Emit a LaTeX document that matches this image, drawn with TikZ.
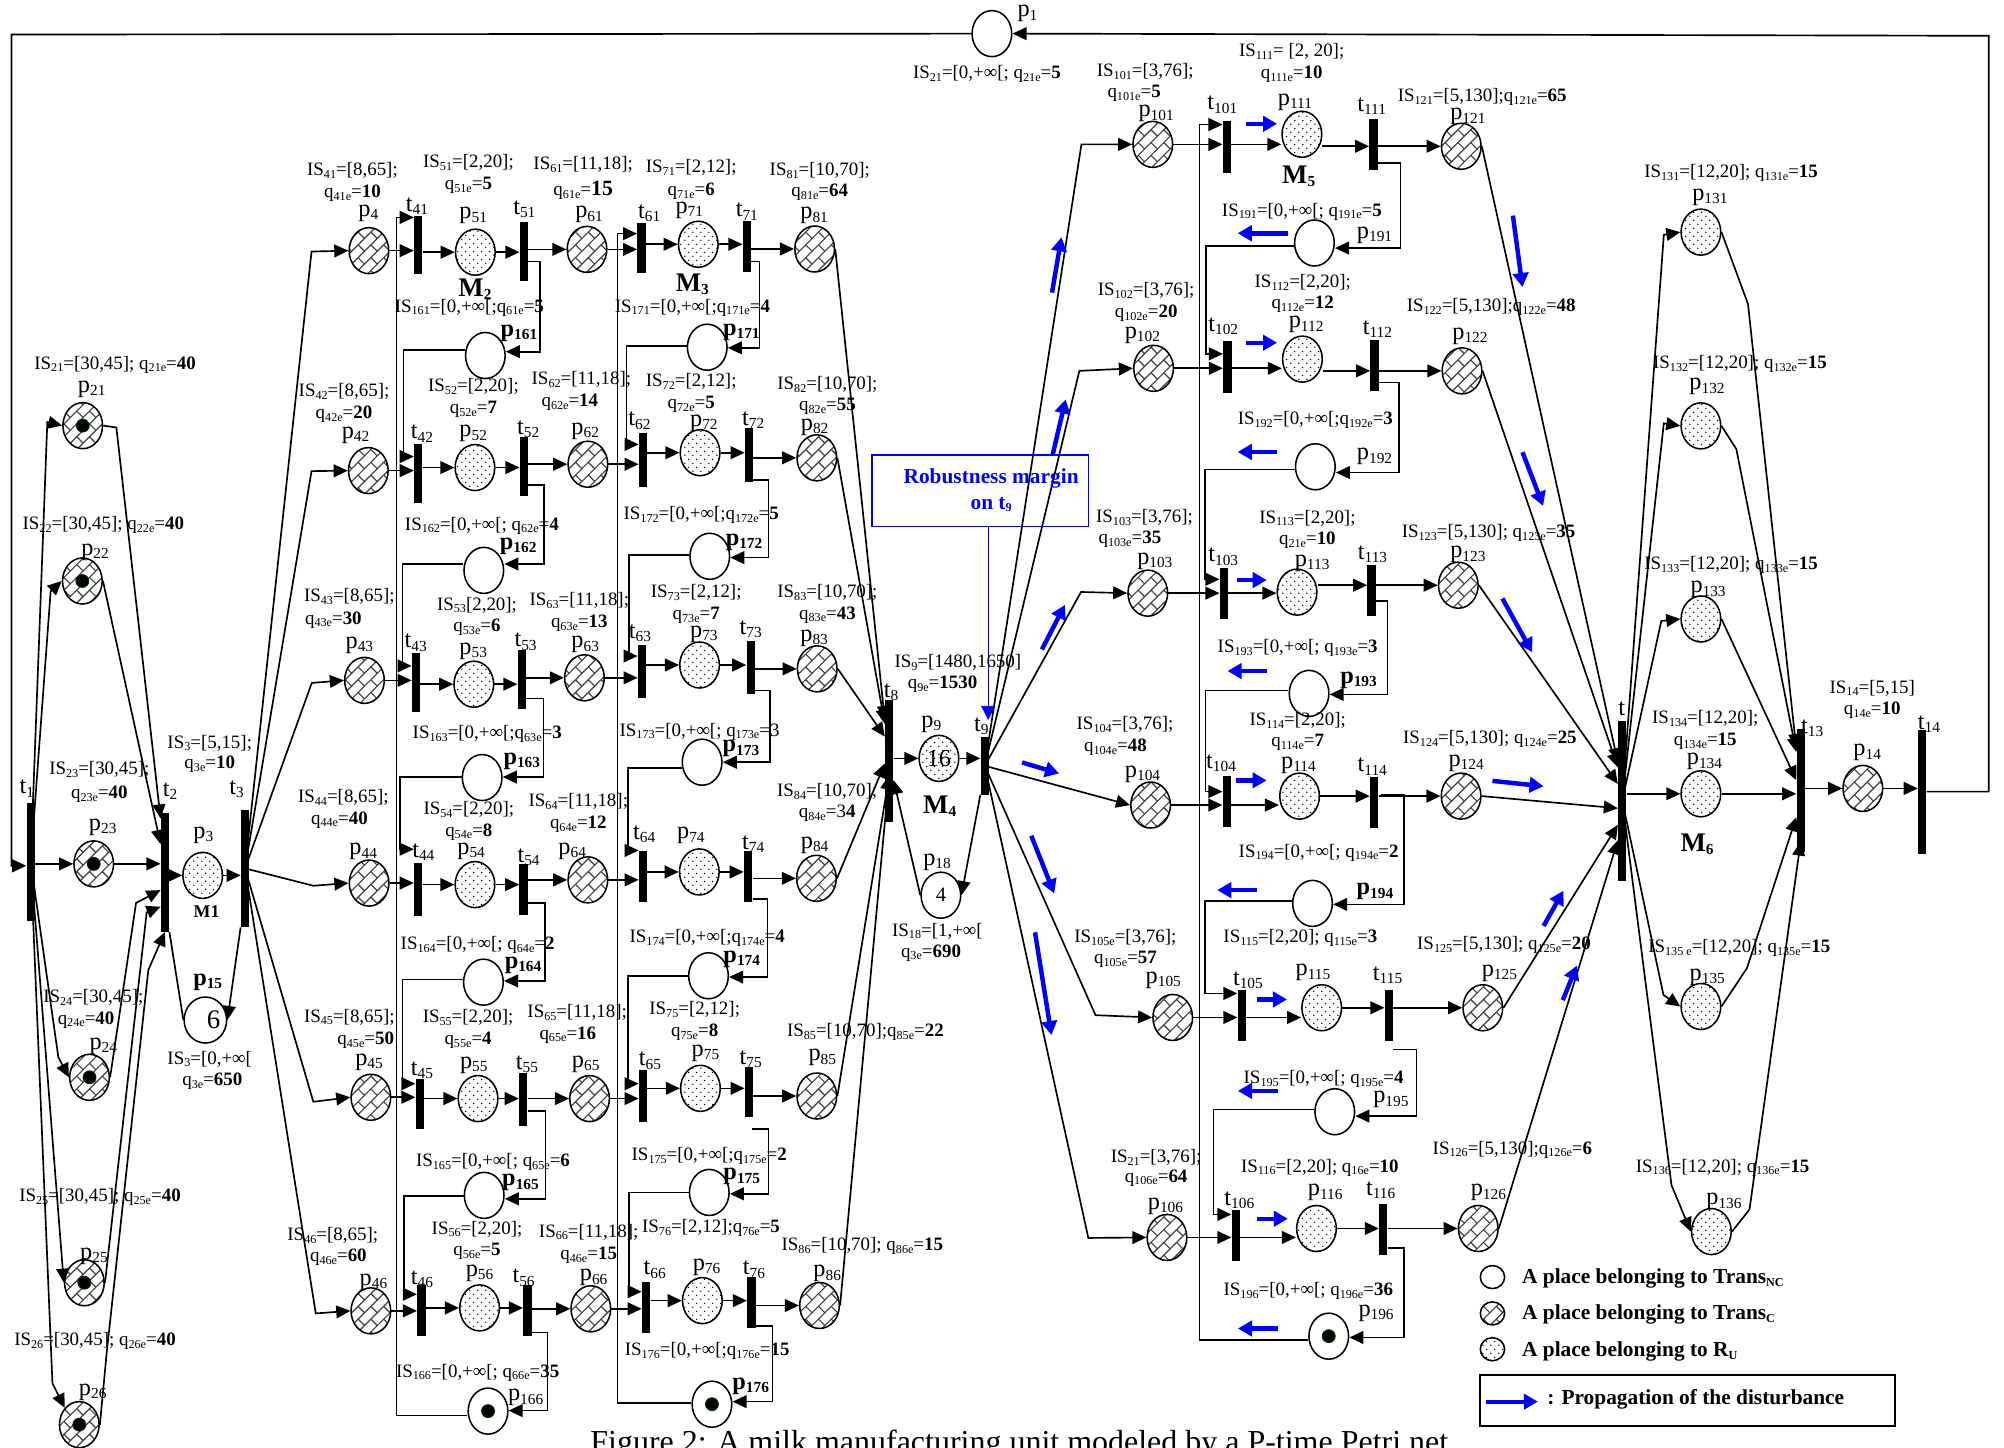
\documentclass[tikz,border=0pt]{standalone}
\usepackage{fontspec}
\setmainfont{Liberation Serif}
\usetikzlibrary{arrows.meta,shapes.geometric,patterns}
\pgfdeclarepatternformonly{dbrick}{\pgfqpoint{-1pt}{-1pt}}{\pgfqpoint{21pt}{21pt}}{\pgfqpoint{20pt}{20pt}}{%
 \pgfsetlinewidth{0.9pt}%
 \pgfpathmoveto{\pgfqpoint{0pt}{0pt}}\pgfpathlineto{\pgfqpoint{20pt}{20pt}}%
 \pgfpathmoveto{\pgfqpoint{0pt}{10pt}}\pgfpathlineto{\pgfqpoint{10pt}{20pt}}%
 \pgfpathmoveto{\pgfqpoint{10pt}{0pt}}\pgfpathlineto{\pgfqpoint{20pt}{10pt}}%
 \pgfpathmoveto{\pgfqpoint{5pt}{5pt}}\pgfpathlineto{\pgfqpoint{0pt}{10pt}}%
 \pgfpathmoveto{\pgfqpoint{15pt}{15pt}}\pgfpathlineto{\pgfqpoint{10pt}{20pt}}%
 \pgfpathmoveto{\pgfqpoint{5pt}{15pt}}\pgfpathlineto{\pgfqpoint{0pt}{20pt}}%
 \pgfpathmoveto{\pgfqpoint{15pt}{5pt}}\pgfpathlineto{\pgfqpoint{10pt}{10pt}}%
 \pgfusepath{stroke}}
\pgfdeclarepatternformonly{ddots}{\pgfqpoint{0pt}{0pt}}{\pgfqpoint{6pt}{6pt}}{\pgfqpoint{6pt}{6pt}}{%
 \pgfpathcircle{\pgfqpoint{1.5pt}{1.5pt}}{0.6pt}%
 \pgfpathcircle{\pgfqpoint{4.5pt}{4.5pt}}{0.6pt}%
 \pgfusepath{fill}}
\tikzset{
 x=1pt,y=-1pt,
 pl/.style={ellipse,draw,line width=1.2pt,minimum width=31pt,minimum height=36pt,inner sep=0pt,font=\fontsize{16}{18}\selectfont},
 brk/.style={pattern=dbrick,pattern color=black!75},
 dts/.style={pattern=ddots,pattern color=black},
 leg/.style={minimum width=19pt,minimum height=18pt},
 trn/.style={rectangle,fill=black,draw=none,minimum width=6.5pt,inner sep=0pt},
 tkn/.style={circle,fill=black,draw=black!60!green!40!black,line width=.8pt,minimum size=10pt,inner sep=0pt},
 cn/.style={draw,line width=1.3pt,line join=miter,-{Triangle[length=11pt,width=10pt]}},
 blu/.style={draw=blue,line width=3.5pt,-{Triangle[length=11pt,width=12pt]}},
 lbl/.style={inner sep=0pt,font=\fontsize{14.8}{17}\selectfont},
 plbl/.style={inner sep=0pt,font=\fontsize{19}{21}\selectfont},
 mlbl/.style={inner sep=0pt,font=\bfseries\fontsize{21}{23}\selectfont},
 lgd/.style={inner sep=0pt,anchor=west,font=\bfseries\fontsize{16.7}{18}\selectfont},
}
\newcounter{lbc}
\newcommand\sd[1]{\raisebox{-2.2pt}{\fontsize{9.5}{10}\selectfont #1}}
\newcommand\sD[1]{\raisebox{-2.6pt}{\fontsize{12}{13}\selectfont #1}}
\newcommand\lb[3]{\stepcounter{lbc}\node[lbl] (lb\arabic{lbc}) at (#1,#2) {#3};}
\newcommand\lp[4][p]{\stepcounter{lbc}\node[plbl] (lb\arabic{lbc}) at (#2,#3) {#1\sD{#4}};}
\newcommand\lbp[3]{\stepcounter{lbc}\node[plbl] (lb\arabic{lbc}) at (#1,#2) {\textbf{p\sD{#3}}};}
\newcommand\lM[3]{\stepcounter{lbc}\node[mlbl] (lb\arabic{lbc}) at (#1,#2) {M\sD{#3}};}
\newcommand\IS[2]{IS\sd{#1}#2}
\newcommand\Qq[2]{q\sd{#1}=\textbf{#2}}
\newcommand\PB[3]{\node[pl,brk] (#1) at (#2,#3) {};}
\newcommand\PD[3]{\node[pl,dts] (#1) at (#2,#3) {};}
\newcommand\PE[3]{\node[pl] (#1) at (#2,#3) {};}
\newcommand\TR[4]{\node[trn,minimum height=#4pt] (#1) at (#2,#3) {};}
\newcommand\TK[1]{\node[tkn] (tk#1) at (#1) {};}
\newcommand\loopR[5]{\draw[cn] (#1.east |- 0,#2) -- (#3,#2) -- (#3,#4) -- (#5.east |- 0,#4);}
\newcommand\loopL[5]{\draw[cn] (#1.west |- 0,#2) -- (#3,#2) -- (#3,#4) -- (#5.west |- 0,#4);}
\newcommand\bl[4]{\draw[blu] (#1,#2) -- (#3,#4);}
\begin{document}
\begin{tikzpicture}
\useasboundingbox (0,0) rectangle (1567,1131.5);
% --- left part
\PE{p1}{775.6}{26.3}
\TR{t1}{24}{674}{92}\TR{t2}{129}{682}{93}\TR{t3}{191.6}{679}{92}
\PB{p21}{64.7}{332.8}\PB{p22}{64.4}{454.3}\PB{p23}{73.3}{675.5}\PB{p24}{70}{842.4}\PB{p25}{66}{1003}\PB{p26}{62}{1114}
\PD{p3}{158.5}{684.5}
\node[pl] (p15) at (160.6,797.6) {\fontsize{21}{23}\selectfont\hspace*{13pt}\raisebox{-6pt}{6}};
% --- M2/M3 rows
\PB{p41}{288.5}{196}\TR{t41}{327}{191.6}{46}\PD{p51}{371.7}{197.2}\TR{t51}{409.7}{196.7}{46}\PB{p61}{459}{195}\TR{t61}{501.6}{194}{39}\PD{p71}{546}{191}\TR{t71}{584}{192.7}{40}\PB{p81}{637}{194.7}
\PB{p42}{288}{368}\TR{t42}{327}{370.4}{46}\PD{p52}{371.4}{365.6}\TR{t52}{409.7}{365}{46}\PB{p62}{459.7}{363}\TR{t62}{502.8}{359.5}{42}\PD{p72}{547.4}{354}\TR{t72}{585.7}{355.6}{42}\PB{p82}{638.7}{358}
\PB{p43}{285}{532}\TR{t43}{325.3}{533.4}{46}\PD{p53}{370.5}{535}\TR{t53}{408}{531}{46}\PB{p63}{457}{530}\TR{t63}{502}{525}{42}\PD{p73}{547}{520}\TR{t73}{587}{522}{42}\PB{p83}{639}{523}
\PB{p44}{288.6}{690.5}\TR{t44}{327}{695.5}{41}\PD{p54}{371.4}{691.7}\TR{t54}{409.4}{695.6}{40}\PB{p64}{459.7}{688}\TR{t64}{502.8}{685.6}{40}\PD{p74}{546.8}{681.8}\TR{t74}{585}{685.6}{40}\PB{p84}{638.4}{686.8}
\PB{p45}{290}{858}\TR{t45}{328.3}{863.5}{39}\PD{p55}{373.8}{859}\TR{t55}{409.1}{859.7}{41}\PB{p65}{461}{859}\TR{t65}{502.8}{857}{40}\PD{p75}{547.7}{851}\TR{t75}{585.7}{854}{39}\PB{p85}{638.7}{857}
\PB{p46}{290}{1025}\TR{t46}{329.5}{1025}{40}\PD{p56}{375}{1022.7}\TR{t56}{412.4}{1025}{40}\PB{p66}{462}{1023.4}\TR{t66}{505.2}{1022.7}{40}\PD{p76}{549.2}{1017}\TR{t76}{587.5}{1018.5}{40}\PB{p86}{640.8}{1020.8}
\PE{p161}{379.5}{278}\PE{p162}{378.3}{446}\PE{p163}{377}{608}\PE{p164}{378}{768}\PE{p165}{378.6}{934.7}\PE{p166}{381.6}{1103.4}
\PE{p171}{553}{271.5}\PE{p172}{555}{435}\PE{p173}{549}{596}\PE{p174}{554}{763}\PE{p175}{554.6}{932.4}\PE{p176}{556.7}{1098}
\TR{t8}{695.3}{595}{96}\TR{t9}{770}{598.8}{45}
\node[pl,dts] (p9) at (734.2,593) {\fontsize{19}{21}\selectfont 16};
\node[pl] (p18) at (735.7,700) {4};
% --- M5 rows
\PB{p101}{901.4}{112.9}\TR{t101}{959.4}{115}{41}\PD{p111}{1018}{105}\TR{t111}{1074}{113}{40}\PB{p121}{1142.6}{114.4}
\PB{p102}{902}{288}\TR{t102}{959.7}{287}{40}\PD{p112}{1018.4}{280.8}\TR{t112}{1074.8}{286}{40}\PB{p122}{1143.2}{290}
\PB{p103}{897.5}{463.8}\TR{t103}{957}{463.8}{40}\PD{p113}{1014.2}{463}\TR{t113}{1072.5}{462}{40}\PB{p123}{1140.3}{457.6}
\PB{p104}{899.7}{629.5}\TR{t104}{959.3}{626.4}{40}\PD{p114}{1016.2}{622.5}\TR{t114}{1074.5}{627.4}{40}\PB{p124}{1142.5}{622.5}
\PB{p105}{917}{795.6}\TR{t105}{971}{793.8}{40}\PD{p115}{1033.5}{788}\TR{t115}{1086}{793.8}{40}\PB{p125}{1159.5}{788}
\PB{p106}{912.5}{967.6}\TR{t106}{966.3}{965.8}{40}\PD{p116}{1029.4}{960.6}\TR{t116}{1081.6}{961.4}{40}\PB{p126}{1155.9}{960.6}
\PE{p191}{1027.8}{190}\PE{p192}{1028.5}{365}\PE{p193}{1023.6}{542.2}\PE{p194}{1026.3}{706.4}\PE{p195}{1043.7}{869.3}\PE{p196}{1039}{1044.8}
% --- M6
\TR{t12}{1268.5}{626}{125}\TR{t13}{1408}{618}{96}\TR{t14}{1503}{619}{97}
\PD{p131}{1330}{181.5}\PD{p132}{1330}{333}\PD{p133}{1330}{484}\PD{p134}{1330}{620.7}\PD{p135}{1330}{787}\PD{p136}{1338.2}{963}
\PB{p14}{1456.6}{616.5}
% tokens
\TK{p21}\TK{p22}\TK{p23}\TK{p24}\TK{p25}\TK{p26}\TK{p166}\TK{p176}\TK{p196}
% --- connectors: chains
\foreach \i in {1,...,6}{
 \draw[cn] (p4\i.east) -- (t4\i.west |- p4\i.east);
 \draw[cn] (t4\i.east |- p5\i.west) -- (p5\i.west);
 \draw[cn] (p5\i.east) -- (t5\i.west |- p5\i.east);
 \draw[cn] (t5\i.east |- p6\i.west) -- (p6\i.west);
 \draw[cn] (p6\i.east) -- (t6\i.west |- p6\i.east);
 \draw[cn] (t6\i.east |- p7\i.west) -- (p7\i.west);
 \draw[cn] (p7\i.east) -- (t7\i.west |- p7\i.east);
 \draw[cn] (t7\i.east |- p8\i.west) -- (p8\i.west);
 \draw[cn] (p10\i.east) -- (t10\i.west |- p10\i.east);
 \draw[cn] (t10\i.east |- p10\i.east) -- (p11\i.west |- p10\i.east);
 \draw[cn] (p11\i.east |- p12\i.west) -- (t11\i.west |- p12\i.west);
 \draw[cn] (t11\i.east |- p12\i.west) -- (p12\i.west);
}
% global loop
\draw[cn] (t14.east |- 0,619) -- (1555,619) -- (1555,28) -- (p1.east);
\draw[cn] (p1.west) -- (9,27) -- (9,677) -- (t1.west |- 0,677);
% t1 fan
\draw[cn] (t1.center) -- (37,330) -- (p21.west);
\draw[cn] (t1.center) -- (39.6,462.4) -- (p22.west);
\draw[cn] (t1.east |- p23.west) -- (p23.west);
\draw[cn] (t1.center) -- (45.6,826.6) -- (p24.west);
\draw[cn] (t1.center) -- (p25.west);
\draw[cn] (t1.center) -- (41,1081.6) -- (p26.north west);
% into t2
\draw[cn] (p21.east) -- (91,334.3) -- (t2.west |- 0,640);
\draw[cn] (p22.east) -- (t2.west |- 0,660);
\draw[cn] (p23.east) -- (t2.west |- p23.east);
\draw[cn] (p24.east) -- (106.4,706) -- (t2.west |- 0,696);
\draw[cn] (p25.east) -- (114.7,713.4) -- (t2.west |- 0,709);
\draw[cn] (p26.east) -- (83.4,1058) -- (116,758.4) -- (t2.south);
\draw[cn] (t2.east |- p3.west) -- (p3.west);
\draw[cn] (p3.east) -- (t3.west |- p3.east);
\draw[line width=1.3pt] (t2.south east) -- (p15.west);
\draw[cn] (t3.south west) -- (p15.east);
% t3 fan
\foreach \i/\x/\y in {1/243.6/196.7,2/243.6/368.4,3/243.8/534,4/245/692.6,5/245/861.5,6/246.9/1027}{
 \draw[cn] (t3.center) -- (\x,\y) -- (p4\i.west);
}
% feedback M2
\loopR{t51}{204.5}{422.3}{275}{p161}\loopL{p161}{273.5}{315.4}{357}{t42}
\loopR{t52}{379}{425.6}{441}{p162}\loopL{p162}{441}{314.8}{520.7}{t43}
\loopR{t53}{546.3}{425}{607.6}{p163}\loopL{p163}{607.6}{312.8}{664}{t44}
\loopR{t54}{705.9}{426}{767}{p164}\loopL{p164}{766}{314.6}{847.4}{t45}
\loopR{t55}{868.5}{426.5}{937.4}{p165}\loopL{p165}{935}{316}{1012}{t46}
\loopR{t56}{1041.8}{428}{1103}{p166}\loopL{p166}{1106.8}{310}{170}{t41}
% feedback M3
\loopR{t71}{204.5}{593.8}{272}{p171}\loopL{p171}{270.7}{490}{347.5}{t62}
\loopR{t72}{375.4}{601}{436}{p172}\loopL{p172}{434}{492}{513}{t63}
\loopR{t73}{540}{602}{596}{p173}\loopL{p173}{600.7}{491}{665}{t64}
\loopR{t74}{702.8}{600}{764}{p174}\loopL{p174}{763}{491}{847.4}{t65}
\draw[cn] (588,883) -- (601,883) -- (601,933.5) -- (p175.east |- 0,933.5);
\loopL{p175}{932.4}{491.7}{1010}{t66}
\loopR{t76}{1036.8}{604}{1096}{p176}\loopL{p176}{1097.3}{482.8}{182.7}{t61}
% into t8
\draw[cn] (p81.east) -- (t8.west |- 0,563);
\draw[cn] (p82.east) -- (t8.west |- 0,566);
\draw[cn] (p83.east) -- (t8.west |- 0,576);
\draw[cn] (p84.east) -- (t8.west |- 0,597);
\draw[cn] (p85.east) -- (t8.center |- 0,606);
\draw[cn] (p86.east) -- (t8.center |- 0,606);
\draw[cn] (t8.east |- p9.west) -- (p9.west);
\draw[cn] (p9.east) -- (t9.west |- p9.east);
\draw[cn] (t9.south west) -- (p18.east);
\draw[cn] (p18.west) -- (t8.east |- 0,610);
% t9 fan
\foreach \i/\x/\y in {1/845.6/112.9,2/844/290,3/845.3/462.9,5/856.6/793.8,6/851/968}{
 \draw[cn] (t9.center) -- (\x,\y) -- (p10\i.west);
}
\draw[cn] (t9.center) -- (p104.west);
% feedback M5
\loopR{t111}{127.7}{1095}{194}{p191}\loopL{p191}{192.3}{943}{276.7}{t102}
\loopR{t112}{299}{1094}{369.5}{p192}\loopL{p192}{367}{942}{453}{t103}
\loopR{t113}{470}{1085}{543}{p193}\loopL{p193}{540}{942.5}{619}{t104}
\draw[cn] (1079.6,621.7) -- (1098,621.7) -- (1098,707.2) -- (p194.east |- 0,707.2);
\loopL{p194}{704.6}{942}{776.8}{t105}
\draw[cn] (1089.6,820.6) -- (1107.6,820.6) -- (1107.6,872.7) -- (p195.east |- 0,872.7);
\loopL{p195}{867.5}{949}{949.6}{t106}
\loopR{t116}{976}{1098}{1045.8}{p196}\loopL{p196}{1048}{938}{97.4}{t101}
% into t12
\draw[cn] (p121.east) -- (t12.west |- 0,596);
\draw[cn] (p122.east) -- (t12.west |- 0,600);
\draw[cn] (p123.east) -- (t12.west |- 0,613);
\draw[cn] (p124.east) -- (t12.west |- 0,632);
\draw[cn] (p125.east) -- (t12.west |- 0,645);
\draw[cn] (p126.east) -- (t12.west |- 0,657);
% t12 fan
\foreach \i/\x/\y in {1/1301/183.6,2/1301/331,3/1299/485.6,5/1300.7/778}{
 \draw[cn] (t12.center) -- (\x,\y) -- (p13\i.west);
}
\draw[cn] (t12.east |- p134.west) -- (p134.west);
\draw[cn] (t12.center) -- (1307,926.7) -- (p136.west);
% into t13
\draw[cn] (p131.east) -- (1366.8,237.7) -- (t13.west |- 0,585);
\draw[cn] (p132.east) -- (1357.7,351.2) -- (t13.west |- 0,588);
\draw[cn] (p133.east) -- (t13.west |- 0,610);
\draw[cn] (p134.east) -- (t13.west |- p134.east);
\draw[cn] (p135.east) -- (1366,757) -- (t13.west |- 0,639);
\draw[cn] (p136.east) -- (1368,945.7) -- (t13.center |- 0,658);
\draw[cn] (t13.east |- p14.west) -- (p14.west);
\draw[cn] (p14.east) -- (t14.west |- p14.east);
% --- blue arrows
\bl{822.6}{228.8}{830}{185.5}\bl{823}{356}{833.3}{312.3}\bl{814.7}{507.8}{832.7}{473}
\bl{799.2}{596.2}{828.2}{604.8}\bl{806.4}{653.5}{824.3}{698.6}\bl{809.3}{729}{822.2}{809.4}
\bl{974.6}{96.8}{998.6}{96.8}\bl{974.6}{268}{998.6}{268}\bl{967}{453.6}{990.5}{453.6}
\bl{966.8}{610.2}{990.4}{610.2}\bl{983}{781.5}{1006.3}{781.5}\bl{983}{953}{1007}{953}
\bl{1007.4}{182.4}{967.8}{182.4}\bl{998.6}{353.4}{967.8}{353.4}\bl{990.7}{524.7}{959.9}{524.7}
\bl{983}{696}{951.8}{696}\bl{999}{853}{968}{853}\bl{999}{1038.8}{968}{1038.8}
\bl{1183}{168.6}{1190.5}{224.5}\bl{1190.5}{353.6}{1206.6}{395.5}\bl{1174.8}{468}{1198}{510}
\bl{1167}{610.6}{1207}{614.8}\bl{1207}{724}{1222.5}{696.5}\bl{1222}{782}{1233}{755}
% robustness box
\node[draw=blue,line width=1.2pt,minimum width=169pt,minimum height=56pt,inner sep=0pt] (rob) at (766.5,383.8) {};
\node[inner sep=0pt,text=blue,font=\bfseries\fontsize{16.7}{18}\selectfont] (robA) at (775,374) {Robustness margin};
\node[inner sep=0pt,text=blue,font=\bfseries\fontsize{16.7}{18}\selectfont] (robB) at (775,394.5) {on t\sd{9}};
\draw[draw=blue,line width=.6pt,-{Triangle[length=11pt,width=11pt]}] (rob.south -| 772.7,0) -- (772.7,563);
% --- legend
\node[pl,leg] (lg1) at (1167,998.6) {};
\node[pl,leg,brk] (lg2) at (1167,1027) {};
\node[pl,leg,dts] (lg3) at (1167,1055) {};
\node[lgd] (lt1) at (1190,1000) {A place belonging to Trans\sd{NC}};
\node[lgd] (lt2) at (1190,1028) {A place belonging to Trans\sd{C}};
\node[lgd] (lt3) at (1190,1057) {A place belonging to R\sd{U}};
\node[draw,line width=1.4pt,minimum width=324.5pt,minimum height=40pt,inner sep=0pt] (legbox) at (1319.8,1095) {};
\draw[blue,line width=3pt,-{Triangle[length=11pt,width=12pt]}] (1161.8,1096) -- (1202.5,1096);
\node[lgd] (lt4) at (1209.7,1094) {: Propagation of the disturbance};
\node[inner sep=0pt,anchor=base,font=\fontsize{25}{27}\selectfont] (cap) at (797,1136) {Figure 2: A milk manufacturing unit modeled by a P-time Petri net};
% --- place / transition labels
\lp{803.4}{10.8}{1}
\lp{71.7}{304.4}{21}\lp{74.3}{431.6}{22}\lp{80.3}{647}{23}\lp{159}{653}{3}\lp[t]{20.9}{616.6}{1}\lp[t]{133}{618.7}{2}\lp[t]{185}{617}{3}
\lbp{162.4}{768}{15}\lp{80.8}{818}{24}\lp{73.5}{982}{25}\lp{72.5}{1088.4}{26}
\stepcounter{lbc}\node[inner sep=0pt,font=\bfseries\fontsize{14}{16}\selectfont] (lb\arabic{lbc}) at (161.6,713) {M1};
\lp{288}{166.5}{4}\lp[t]{326}{161}{41}\lp{370}{168.7}{51}\lp[t]{410}{163.7}{51}\lp{460.6}{168}{61}\lp[t]{507.6}{167}{61}\lp{539}{164.5}{71}\lp[t]{584}{165.4}{71}\lp{636.6}{168.7}{81}
\lp{278}{340.5}{42}\lp[t]{330}{339}{42}\lp{370}{339}{52}\lp[t]{413}{335.7}{52}\lp{457.6}{337}{62}\lp[t]{500}{329}{62}\lp{550.4}{330.7}{72}\lp[t]{589}{328.5}{72}\lp{637}{334}{82}
\lp{281}{504.7}{43}\lp[t]{325}{502.5}{43}\lp{370}{509}{53}\lp[t]{411}{501.7}{53}\lp{457.6}{504}{63}\lp[t]{500.4}{495}{63}\lp{550.4}{496}{73}\lp[t]{587}{492}{73}\lp{636.6}{499}{83}
\lp{284}{666}{44}\lp[t]{331}{666.5}{44}\lp{368.4}{665.7}{54}\lp[t]{413.3}{670.3}{54}\lp{447.4}{665.7}{64}\lp[t]{503.7}{652.3}{64}\lp{540.2}{653.5}{74}\lp[t]{589}{660}{74}\lp{637}{660.7}{84}
\lp{288.6}{830.6}{45}\lp[t]{330}{837}{45}\lp{370.5}{833}{55}\lp[t]{412}{832}{55}\lp{458}{832}{65}\lp[t]{508.2}{829.5}{65}\lp{551.6}{823.7}{75}\lp[t]{587}{828.3}{75}\lp{643}{827}{85}
\lp{292}{1002.5}{46}\lp[t]{330}{1000.5}{46}\lp{375}{995.5}{56}\lp[t]{409.4}{999}{56}\lp{464.2}{999}{66}\lp[t]{512}{992.8}{66}\lp{552.5}{990.9}{76}\lp[t]{589.6}{992.8}{76}\lp{646.8}{995.9}{86}
\lbp{405.8}{260.3}{161}\lbp{405.2}{427}{162}\lbp{408}{595}{163}\lbp{409}{754.5}{164}\lbp{407}{924.7}{165}\lp{411}{1093}{166}
\lbp{579.7}{259.5}{171}\lbp{581.8}{424}{172}\lbp{579.4}{585.4}{173}\lbp{580}{750}{174}\lbp{580}{920}{175}\lbp{587}{1083.9}{176}
\lM{371.4}{226}{2}\lM{541.4}{222.4}{3}\lM{734.8}{630.5}{4}\lM{1015.5}{137.6}{5}\lM{1327}{660}{6}
\lp[t]{696.8}{541.4}{8}\lp{728.2}{566.2}{9}\lp[t]{767.4}{567.7}{9}\lp{732.7}{674.1}{18}
\lp{904}{89}{101}\lp[t]{955.8}{82}{101}\lp{1012.6}{79.8}{111}\lp[t]{1072.5}{82.9}{111}\lp{1147.8}{91.2}{121}\lp{1074.8}{184}{191}
\lp{893.3}{262.2}{102}\lp[t]{956.5}{255}{102}\lp{1021.3}{254}{112}\lp[t]{1077}{257.3}{112}\lp{1149.4}{262.8}{122}\lp{1074.8}{357}{192}
\lp{903}{439}{103}\lp[t]{956.5}{435.4}{103}\lp{1026}{440.6}{113}\lp[t]{1073.2}{433.5}{113}\lp{1147.8}{433.8}{123}\lbp{1062.3}{531.8}{193}
\lp{893.4}{605.3}{104}\lp[t]{954.8}{597}{104}\lp{1015.3}{598.2}{114}\lp[t]{1073}{599.6}{114}\lp{1146.4}{597}{124}\lbp{1075.1}{697.3}{194}
\lp{909.6}{766.4}{105}\lp[t]{975.8}{766.4}{105}\lp{1026.6}{760.7}{115}\lp[t]{1085}{762.5}{115}\lp{1172.4}{761}{125}\lp{1087.6}{860}{195}
\lp{911.3}{943}{106}\lp[t]{969.1}{938.4}{106}\lp{1036.2}{932.7}{116}\lp[t]{1079.6}{930.6}{116}\lp{1163.8}{932.7}{126}\lp{1076}{1027}{196}
\lp{1337}{154}{131}\lp{1334.8}{302.3}{132}\lp{1335.6}{461.2}{133}\lp{1332.8}{595.6}{134}\lp{1335}{764}{135}\lp{1348}{939.7}{136}
\lb{1268}{554.4}{\fontsize{19}{21}\selectfont t}\lp[t]{1417}{569.4}{13}\lp{1460}{588.6}{14}\lp[t]{1508.3}{566}{14}
% --- interval labels
\lb{90}{285}{\IS{21}{=[30,45]; }\Qq{21e}{40}}
\lb{80.8}{410.6}{\IS{22}{=[30,45]; }\Qq{22e}{40}}
\lb{77.7}{601.6}{\IS{23}{=[30,45];}}\lb{77.7}{621}{\Qq{23e}{40}}
\lb{164}{581}{\IS{3}{=[5,15];}}\lb{164}{597.7}{\Qq{3e}{10}}
\lb{73}{780}{\IS{24}{=[30,45];}}\lb{67.3}{797.4}{\Qq{24e}{40}}
\lb{78.2}{935.7}{\IS{25}{=[30,45]; }\Qq{25e}{40}}
\lb{74.3}{1048.9}{\IS{26}{=[30,45]; }\Qq{26e}{40}}
\lb{164}{828}{\IS{3}{=[0,+∞[}}\lb{166}{845.7}{\Qq{3e}{650}}
\lb{275.6}{133}{\IS{41}{=[8,65];}}\lb{275.6}{151.4}{\Qq{41e}{10}}
\lb{269}{306}{\IS{42}{=[8,65];}}\lb{269}{324}{\Qq{42e}{20}}
\lb{273.2}{466.6}{\IS{43}{=[8,65];}}\lb{260.7}{484.6}{\Qq{43e}{30}}
\lb{268.5}{623.7}{\IS{44}{=[8,65];}}\lb{265.4}{641}{\Qq{44e}{40}}
\lb{273.2}{795.2}{\IS{45}{=[8,65];}}\lb{286}{813.5}{\Qq{45e}{50}}
\lb{260.2}{966.2}{\IS{46}{=[8,65];}}\lb{264.6}{983.4}{\Qq{46e}{60}}
\lb{366.3}{126.8}{\IS{51}{=[2,20];}}\lb{366.3}{145}{\Qq{51e}{5}}
\lb{456}{128.8}{\IS{61}{=[11,18];}}\lb{456}{148.6}{q\sd{61e}=\textbf{\fontsize{17}{19}\selectfont 15}}
\lb{540.5}{131}{\IS{71}{=[2,12];}}\lb{540.5}{149.7}{\Qq{71e}{6}}
\lb{641}{133}{\IS{81}{=[10,70];}}\lb{641}{150.6}{\Qq{81e}{64}}
\lb{367}{240.5}{\IS{161}{=[0,+∞[;}\Qq{61e}{5}}
\lb{541.4}{240.5}{\IS{171}{=[0,+∞[;}\Qq{171e}{4}}
\lb{370.2}{302}{\IS{52}{=[2,20];}}\lb{370.2}{320}{\Qq{52e}{7}}
\lb{454.6}{297}{\IS{62}{=[11,18];}}\lb{445.6}{314.5}{\Qq{62e}{14}}
\lb{540.5}{298.6}{\IS{72}{=[2,12];}}\lb{540.5}{316}{\Qq{72e}{5}}
\lb{647}{300.6}{\IS{82}{=[10,70];}}\lb{647}{317.6}{\Qq{82e}{55}}
\lb{376.8}{410.9}{\IS{162}{=[0,+∞[; }\Qq{62e}{4}}
\lb{548.3}{402.5}{\IS{172}{=[0,+∞[;}\Qq{172e}{5}}
\lb{373}{473}{\IS{53}{[2,20];}}\lb{373}{490.8}{\Qq{53e}{6}}
\lb{453}{469.5}{\IS{63}{=[11,18];}}\lb{453}{487.7}{\Qq{63e}{13}}
\lb{544.4}{463.4}{\IS{73}{=[2,12];}}\lb{544.4}{481}{\Qq{73e}{7}}
\lb{647}{463.4}{\IS{83}{=[10,70];}}\lb{647}{480.7}{\Qq{83e}{43}}
\lb{381}{574}{\IS{163}{=[0,+∞[;}\Qq{63e}{3}}
\lb{547}{572}{\IS{173}{=[0,+∞[; }q\sd{173e}=3}
\lb{366.6}{633.2}{\IS{54}{=[2,20];}}\lb{366.6}{650.4}{\Qq{54e}{8}}
\lb{452.2}{626.7}{\IS{64}{=[11,18];}}\lb{452.2}{644.7}{\Qq{64e}{12}}
\lb{646.8}{619}{\IS{84}{=[10,70];}}\lb{646.8}{635.9}{q\sd{84e}=3\textbf{4}}
\lb{373.5}{739.2}{\IS{164}{=[0,+∞[; }\Qq{64e}{2}}
\lb{553}{733.4}{\IS{174}{=[0,+∞[;}\Qq{174e}{4}}
\lb{366}{795.8}{\IS{55}{=[2,20];}}\lb{366}{813.8}{\Qq{55e}{4}}
\lb{451.3}{792}{\IS{65}{=[11,18];}}\lb{444}{809.2}{\Qq{65e}{16}}
\lb{543.2}{789.3}{\IS{75}{=[2,12];}}\lb{543.2}{807.3}{\Qq{75e}{8}}
\lb{676.7}{807.3}{\IS{85}{=[10,70];}\Qq{85e}{22}}
\lb{385.5}{908.7}{\IS{165}{=[0,+∞[; }\Qq{65e}{6}}
\lb{554.6}{904}{\IS{175}{=[0,+∞[;}\Qq{175e}{2}}
\lb{373}{961}{\IS{56}{=[2,20];}}\lb{373}{978.7}{\Qq{56e}{5}}
\lb{460.3}{963.4}{\IS{66}{=[11,18];}}\lb{460.3}{981.4}{\Qq{46e}{15}}
\lb{556}{960.3}{\IS{76}{=[2,12];}\Qq{76e}{5}}
\lb{674.3}{974.5}{\IS{86}{=[10,70]; }\Qq{86e}{15}}
\lb{373.5}{1073.2}{\IS{166}{=[0,+∞[; }\Qq{66e}{35}}
\lb{553}{1056.7}{\IS{176}{=[0,+∞[;}\Qq{176e}{15}}
\lb{749}{518}{\IS{9}{=[1480,1650]}}\lb{737}{535}{\Qq{9e}{1530}}
\lb{733}{728}{\IS{18}{=[1,+∞[}}\lb{728}{745}{\Qq{3e}{690}}
\lb{771.7}{57.8}{\IS{21}{=[0,+∞[; }\Qq{21e}{5}}
\lb{895.5}{55.7}{\IS{101}{=[3,76];}}\lb{886.8}{73.3}{\Qq{101e}{5}}
\lb{1010}{40.2}{\IS{111}{= [2, 20];}}\lb{1010}{57.8}{\Qq{111e}{10}}
\lb{1159}{76}{\IS{121}{=[5,130];}\Qq{121e}{65}}
\lb{1018}{165.4}{\IS{191}{=[0,+∞[; }\Qq{191e}{5}}
\lb{896.2}{227.3}{\IS{102}{=[3,76];}}\lb{896.2}{244.9}{\Qq{102e}{20}}
\lb{1018.7}{220.8}{\IS{112}{=[2,20];}}\lb{1018.7}{238}{\Qq{112e}{12}}
\lb{1166}{240}{\IS{122}{=[5,130];}\Qq{122e}{48}}
\lb{1028.5}{328.7}{\IS{192}{=[0,+∞[;}\Qq{192e}{3}}
\lb{894.9}{404.4}{\IS{103}{=[3,76];}}\lb{883.5}{422}{\Qq{103e}{35}}
\lb{1022.3}{405}{\IS{113}{=[2,20];}}\lb{1022.3}{422.7}{\Qq{21e}{10}}
\lb{1164}{417}{\IS{123}{=[5,130]; }\Qq{123e}{35}}
\lb{1014.7}{506.5}{\IS{193}{=[0,+∞[; }\Qq{193e}{3}}
\lb{1014.7}{563.6}{\IS{114}{=[2,20];}}\lb{1014.7}{580.8}{\Qq{114e}{7}}
\lb{879.7}{566.4}{\IS{104}{=[3,76];}}\lb{872.2}{584.4}{\Qq{104e}{48}}
\lb{1165}{578}{\IS{124}{=[5,130]; }\Qq{124e}{25}}
\lb{1031.1}{666.6}{\IS{194}{=[0,+∞[; }\Qq{194e}{2}}
\lb{1016.8}{733.8}{\IS{115}{=[2,20]; }\Qq{115e}{3}}
\lb{880}{733}{\IS{105e}{=[3,76];}}\lb{880}{750.2}{\Qq{105e}{57}}
\lb{1176}{739}{\IS{125}{=[5,130]; }\Qq{125e}{20}}
\lb{1035}{843.8}{\IS{195}{=[0,+∞[; }\Qq{195e}{4}}
\lb{904}{905}{\IS{21}{=[3,76];}}\lb{904}{921}{\Qq{106e}{64}}
\lb{1032}{912.9}{\IS{116}{=[2,20]; }\Qq{16e}{10}}
\lb{1182.6}{898.8}{\IS{126}{=[5,130];}\Qq{126e}{6}}
\lb{1347}{912.9}{\IS{136}{=[12,20]; }\Qq{136e}{15}}
\lb{1023}{1009.3}{\IS{196}{=[0,+∞[; }\Qq{196e}{36}}
\lb{1353.6}{135.5}{\IS{131}{=[12,20]; }\Qq{131e}{15}}
\lb{1360.5}{284.9}{\IS{132}{=[12,20]; }\Qq{132e}{15}}
\lb{1353.6}{442}{\IS{133}{=[12,20]; }\Qq{133e}{15}}
\lb{1333.4}{561.7}{\IS{134}{=[12,20];}}\lb{1333.4}{579.9}{\Qq{134e}{15}}
\lb{1360}{741.6}{\IS{135 e}{=[12,20]; }\Qq{135e}{15}}
\lb{1464}{538}{\IS{14}{=[5,15]}}\lb{1464}{555.4}{\Qq{14e}{10}}
\end{tikzpicture}
\end{document}
